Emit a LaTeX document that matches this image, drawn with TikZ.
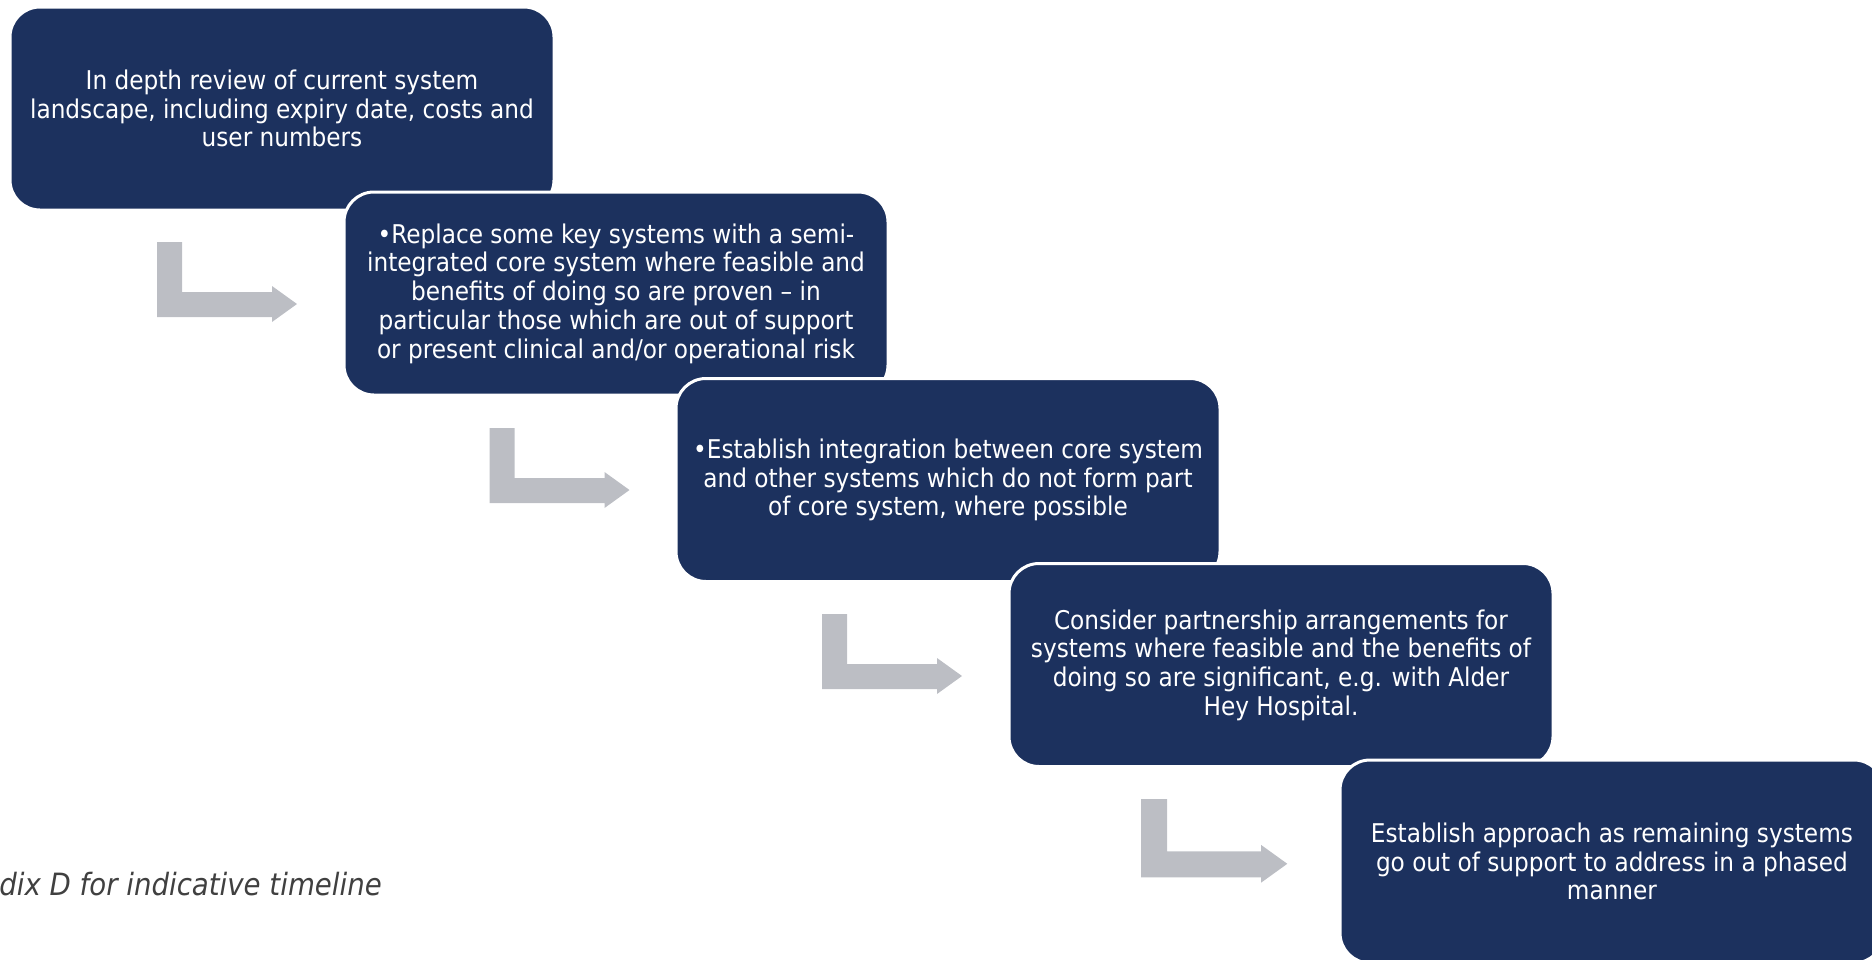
\documentclass[tikz,border=0pt]{standalone}
\usepackage{fontspec}
\setmainfont{DejaVu Sans Condensed}
\definecolor{navy}{RGB}{28,49,94}
\definecolor{bentgray}{RGB}{188,190,196}
\definecolor{notegray}{RGB}{64,64,64}
\begin{document}
\begin{tikzpicture}[x=1pt,y=-1pt,
    stage/.style={rectangle,rounded corners=30pt,draw=white,line width=3pt,fill=navy,text=white,
        minimum width=544pt,minimum height=203pt,inner sep=0pt,align=center,
        font=\fontsize{25.8}{28.7}\selectfont}]
    \useasboundingbox (0,0) rectangle (1872,959);
    % stages, each one drawn over the one before
    \node[stage] (review) at (282,108.5) {In depth review of current system\\landscape, including expiry date, costs and\\user numbers};
    \node[stage] (replace) at (616,293.5) {•Replace some key systems with a semi-\\integrated core system where feasible and\\benefits of doing so are proven – in\\particular those which are out of support\\or present clinical and/or operational risk};
    \node[stage] (integr) at (948,480) {•Establish integration between core system\\and other systems which do not form part\\of core system, where possible};
    \node[stage] (partner) at (1281,665) {Consider partnership arrangements for\\systems where feasible and the benefits of\\doing so are significant, e.g. with Alder\\Hey Hospital.};
    \node[stage] (approach) at (1612,861.5) {Establish approach as remaining systems\\go out of support to address in a phased\\manner};
    % bent arrows between the stages
    \foreach \x/\y/\s in {157/242/1,489.5/428/1,822/614/1,1141/799/1.045}
        \fill[bentgray,shift={(\x,\y)},scale=\s] (0,0) -- (25,0) -- (25,50) -- (115,50) -- (115,44) -- (140,62) -- (115,80) -- (115,75) -- (0,75) -- cycle;
    \node[anchor=base east,inner sep=0pt,text=notegray,font=\fontsize{30.7}{34}\selectfont\itshape] (note) at (382,895) {dix D for indicative timeline};
\end{tikzpicture}
\end{document}
